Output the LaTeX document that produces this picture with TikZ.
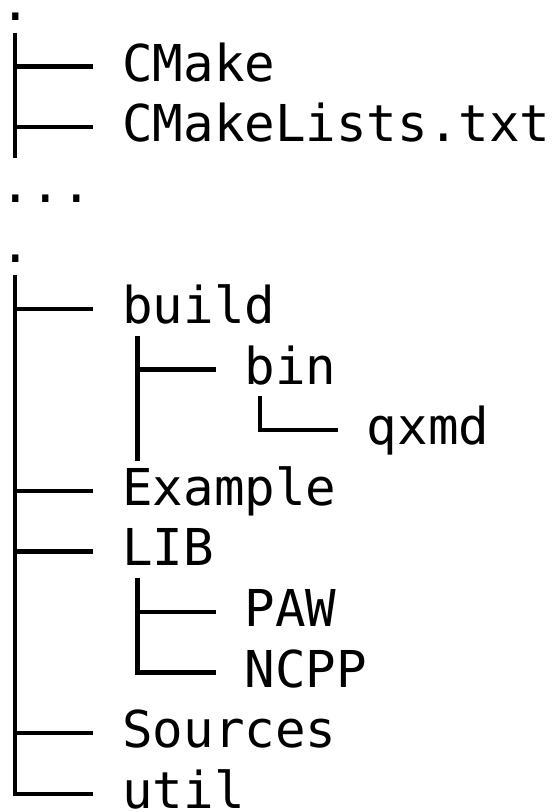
\documentclass[tikz,border=0pt]{standalone}
\usepackage{fontspec}
\usetikzlibrary{calc}
\newfontfamily\treefont{DejaVu Sans Mono}
\def\cw{30.58}      % width of one character column
\def\lh{60.6}       % line height
\def\firstbase{20.5}
\def\barup{14.5}    % branch height above baseline
\def\cellup{48.5}   % top of a line cell above baseline
\def\celldown{16}   % bottom of a line cell below baseline
\tikzset{
  entry/.style    = {anchor=base west, inner sep=0pt, outer sep=0pt,
                     font=\treefont\fontsize{50.8}{60}\selectfont},
  treeline/.style = {line width=4.4pt, line cap=butt, line join=miter}
}

\begin{document}
\begin{tikzpicture}[x=1pt,y=-1pt]
\useasboundingbox (0,0) rectangle (556,812);

% --- roots and gap ---
\node[entry] (root1) at (0, {\firstbase+0*\lh}) {.};
\node[entry] (dots)  at (0, {\firstbase+3*\lh}) {...};
\node[entry] (root2) at (0, {\firstbase+4*\lh}) {.};

% --- entries: line/column/name ---
\foreach \n/\c/\name/\txt in {1/4/cmake/CMake, 2/4/cmakelists/CMakeLists.txt,
    5/4/build/build, 6/8/bin/bin, 7/12/qxmd/qxmd, 8/4/example/Example,
    9/4/lib/LIB, 10/8/paw/PAW, 11/8/ncpp/NCPP, 12/4/sources/Sources,
    13/4/util/util}{
  \node[entry] (\name) at ({\c*\cw}, {\firstbase+\n*\lh}) {\txt};
  \coordinate (\name-b) at ($(\name.base west)+(-\cw+1.5,-\barup)$); % branch end
}

% trunk position below each parent
\foreach \name in {root1, root2, build, bin, lib}{
  \coordinate (\name-t) at ($(\name.base west)+(0.5*\cw,0)$);
}

% --- first tree ---
\draw[treeline] ($(root1-t |- cmake.base)+(0,-\cellup)$)
  -- ($(root1-t |- cmakelists.base)+(0,\celldown)$);
\foreach \ch in {cmake, cmakelists}
  \draw[treeline] (root1-t |- \ch-b) -- (\ch-b);

% --- second tree ---
\draw[treeline] ($(root2-t |- build.base)+(0,-\cellup)$) |- (util-b);
\foreach \ch in {build, example, lib, sources}
  \draw[treeline] (root2-t |- \ch-b) -- (\ch-b);

% build -> bin -> qxmd
\draw[treeline] ($(build-t |- bin.base)+(0,-\cellup)$)
  -- ($(build-t |- qxmd.base)+(0,\celldown)$);
\draw[treeline] (build-t |- bin-b) -- (bin-b);
\draw[treeline] ($(bin-t |- qxmd.base)+(0,-\cellup)$) |- (qxmd-b);

% LIB -> PAW, NCPP
\draw[treeline] ($(lib-t |- paw.base)+(0,-\cellup)$) |- (ncpp-b);
\draw[treeline] (lib-t |- paw-b) -- (paw-b);

\end{tikzpicture}
\end{document}
